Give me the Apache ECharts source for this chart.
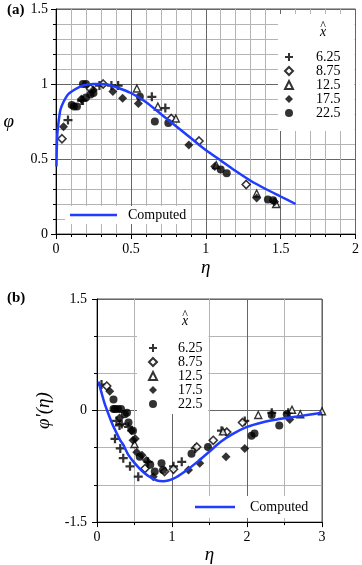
<!DOCTYPE html>
<html>
<head>
<meta charset="utf-8">
<script src="https://cdn.jsdelivr.net/npm/echarts@6/dist/echarts.min.js"></script>
<style>
  html, body { margin: 0; padding: 0; background: #fff; }
  #container { width: 362px; height: 565px; }
</style>
</head>
<body>
<div id="container"></div>
<script>
// panel (a): phi vs eta, one array per x-hat station
const aNames = ['6.25', '8.75', '12.5', '17.5', '22.5'];
const a625 = [[0.08, 0.76], [0.17, 0.89], [0.18, 0.89], [0.29, 0.99], [0.37, 0.99], [0.415, 0.99], [0.64, 0.915], [0.73, 0.84]];
const a875 = [[0.04, 0.635], [0.23, 0.97], [0.315, 1.0], [0.77, 0.77], [0.955, 0.62], [1.27, 0.33]];
const a125 = [[0.54, 0.97], [0.68, 0.85], [0.8, 0.77], [1.07, 0.46], [1.34, 0.27], [1.47, 0.2]];
const a175 = [[0.05, 0.715], [0.17, 0.9], [0.25, 0.96], [0.38, 0.95], [0.445, 0.905], [0.55, 0.87], [0.887, 0.593], [1.06, 0.45], [1.34, 0.24], [1.46, 0.215]];
const a225 = [[0.105, 0.86], [0.12, 0.85], [0.14, 0.85], [0.18, 1.0], [0.2, 1.0], [0.2, 0.91], [0.23, 0.93], [0.25, 0.94], [0.56, 0.915], [0.66, 0.75], [0.75, 0.74], [1.1, 0.43], [1.14, 0.405], [1.415, 0.23], [1.45, 0.225]];
const aComputed = [[0.003, 0.45], [0.006, 0.6], [0.01, 0.68], [0.02, 0.77], [0.03, 0.83], [0.05, 0.88], [0.08, 0.93], [0.12, 0.96], [0.18, 0.99], [0.25, 1.0], [0.3, 1.0], [0.35, 0.995], [0.4, 0.98], [0.5, 0.94], [0.6, 0.88], [0.7, 0.8], [0.8, 0.72], [0.9, 0.64], [1.0, 0.56], [1.1, 0.49], [1.2, 0.42], [1.3, 0.355], [1.4, 0.3], [1.5, 0.25], [1.6, 0.2]];

// panel (b): phi' vs eta
const b625 = [[0.06, 0.35], [0.26, -0.14], [0.3, -0.2], [0.33, -0.18], [0.42, -0.22], [0.24, -0.38], [0.31, -0.51], [0.35, -0.64], [0.44, -0.75], [0.55, -0.89], [0.68, -0.69], [1.02, -0.75], [1.13, -0.69], [1.31, -0.51], [1.66, -0.27], [1.97, -0.14], [2.33, -0.03], [2.55, -0.03]];
const b875 = [[0.13, 0.33], [0.64, -0.78], [0.9, -0.82], [1.02, -0.79], [1.33, -0.49], [1.55, -0.4], [1.73, -0.29], [1.94, -0.16]];
const b125 = [[0.5, -0.45], [1.68, -0.28], [2.15, -0.06], [2.6, 0.01], [2.71, -0.05], [3.0, -0.01]];
const b175 = [[0.17, 0.26], [0.3, -0.1], [0.46, -0.27], [0.48, -0.4], [0.51, -0.38], [0.53, -0.56], [0.6, -0.6], [0.66, -0.67], [0.75, -0.89], [1.22, -0.8], [1.37, -0.71], [1.72, -0.62], [1.97, -0.51], [2.57, -0.12]];
const b225 = [[0.22, 0.15], [0.22, 0.02], [0.24, 0.02], [0.28, 0.02], [0.32, 0.02], [0.37, -0.05], [0.4, -0.03], [0.42, -0.16], [0.48, -0.27], [0.57, -0.62], [0.71, -0.73], [0.77, -0.82], [0.86, -0.71], [0.88, -0.8], [1.26, -0.58], [1.48, -0.49], [2.06, -0.34], [2.1, -0.31], [2.33, -0.06], [2.43, -0.2], [2.53, -0.05]];
const bComputed = [[0.02, 0.39], [0.06, 0.24], [0.1, 0.1], [0.15, -0.04], [0.2, -0.17], [0.26, -0.3], [0.31, -0.4], [0.35, -0.46], [0.38, -0.52], [0.42, -0.6], [0.48, -0.68], [0.55, -0.76], [0.62, -0.83], [0.7, -0.89], [0.8, -0.94], [0.88, -0.95], [0.95, -0.94], [1.05, -0.9], [1.2, -0.8], [1.35, -0.68], [1.5, -0.55], [1.65, -0.42], [1.8, -0.32], [2.0, -0.22], [2.2, -0.16], [2.4, -0.12], [2.6, -0.09], [2.8, -0.06], [3.0, -0.03]];

const SERIF = 'Liberation Serif';
const BLUE = '#1f3cff';
const CROSS = 'path://M3,0H5V3H8V5H5V8H3V5H0V3H3Z';

// symbol style per station
const styles = [
    { symbol: CROSS, symbolSize: 9, itemStyle: { color: '#000' } },
    { symbol: 'diamond', symbolSize: 8, itemStyle: { color: '#fff', borderColor: '#000', borderWidth: 1.6 } },
    { symbol: 'triangle', symbolSize: 7, itemStyle: { color: '#fff', borderColor: '#000', borderWidth: 1.4 } },
    { symbol: 'diamond', symbolSize: 9, itemStyle: { color: '#000' } },
    { symbol: 'circle', symbolSize: 8, itemStyle: { color: '#000' } }
];

function pointSeries(datas, idx) {
    return datas.map(function (d, i) {
        return Object.assign({
            type: 'scatter',
            name: aNames[i],
            xAxisIndex: idx,
            yAxisIndex: idx,
            data: d,
            z: 2
        }, styles[i]);
    });
}

function valueAxis(o) {
    return Object.assign({
        type: 'value',
        gridIndex: o.grid,
        axisLine: { show: true, onZero: false, lineStyle: { color: '#000', width: 1 } },
        axisTick: { show: true, inside: false, length: 5, lineStyle: { color: '#000' } },
        minorTick: { show: true, splitNumber: o.minor, length: 3, lineStyle: { color: '#000' } },
        axisLabel: { fontFamily: SERIF, fontSize: 14, color: '#000', margin: 8 },
        splitLine: { show: true, lineStyle: { color: '#666', width: 1 } },
        minorSplitLine: { show: true, lineStyle: { color: '#b4b4b4', width: 1 } },
        nameLocation: 'middle',
        nameTextStyle: { fontFamily: SERIF, fontSize: 19, fontStyle: 'italic', color: '#000' }
    }, o.extra);
}

// white legend box drawn by the legend itself, sized through padding
function stationLegend(left, top, padding, pad) {
    return {
        data: aNames,
        orient: 'vertical',
        left: left,
        top: top,
        z: 8,
        padding: padding,
        backgroundColor: '#fff',
        itemGap: 0,
        itemWidth: 8,
        itemHeight: 8,
        selectedMode: false,
        formatter: function (n) { return '{t|' + n + '}'; },
        textStyle: {
            rich: { t: { fontFamily: SERIF, fontSize: 14, lineHeight: 13.6, color: '#000', padding: [0, 0, 0, pad] } }
        }
    };
}

function computedLegend(left, top, padding, w, pad) {
    return {
        data: [{ name: 'Computed', icon: 'rect' }],
        left: left,
        top: top,
        z: 8,
        padding: padding,
        backgroundColor: '#fff',
        itemWidth: w,
        itemHeight: 2.5,
        selectedMode: false,
        formatter: function (n) { return '{t|' + n + '}'; },
        textStyle: {
            rich: { t: { fontFamily: SERIF, fontSize: 14, lineHeight: 14, color: '#000', padding: [0, 0, 0, pad] } }
        }
    };
}

function hatX(cx, cy) {
    return [
        { type: 'text', x: cx, y: cy - 6, z: 20, style: { text: '^', fontFamily: SERIF, fontSize: 12, fill: '#000', align: 'center', verticalAlign: 'middle' } },
        { type: 'text', x: cx, y: cy, z: 20, style: { text: 'x', fontFamily: SERIF, fontSize: 14, fontStyle: 'italic', fill: '#000', align: 'center', verticalAlign: 'middle' } }
    ];
}

let chart = echarts.init(document.getElementById('container'));

let option = {
    animation: false,
    backgroundColor: '#fff',
    grid: [
        { left: 56, top: 9, width: 301, height: 225, show: true, borderColor: '#555', borderWidth: 1 },
        { left: 97, top: 299, width: 225, height: 226, show: true, borderColor: '#555', borderWidth: 1 }
    ],
    xAxis: [
        valueAxis({ grid: 0, minor: 5, extra: { min: 0, max: 2, interval: 0.5, name: 'η', nameGap: 24 } }),
        valueAxis({ grid: 1, minor: 2, extra: { min: 0, max: 3, interval: 1, name: 'η', nameGap: 22 } })
    ],
    yAxis: [
        valueAxis({ grid: 0, minor: 5, extra: { min: 0, max: 1.5, interval: 0.5, name: 'φ', nameGap: 42, nameRotate: 0 } }),
        valueAxis({ grid: 1, minor: 3, extra: { min: -1.5, max: 1.5, interval: 1.5, name: "φ'(η)", nameGap: 36, axisLabel: { fontFamily: SERIF, fontSize: 14, color: '#000', margin: 10 } } })
    ],
    legend: [
        stationLegend(278, 14, [36, 14, 11, 6], 18),
        stationLegend(137, 300, [41, 6, 3, 11], 16),
        computedLegend(65, 206, [2, 4, 2, 5], 47, 6),
        computedLegend(190, 496, [4, 4, 4, 5], 40, 10)
    ],
    graphic: hatX(323, 32).concat(hatX(185, 321)).concat([
        { type: 'text', x: 7, y: 3, z: 20, style: { text: '(a)', fontFamily: SERIF, fontSize: 15, fontWeight: 'bold', fill: '#000' } },
        { type: 'text', x: 7, y: 291, z: 20, style: { text: '(b)', fontFamily: SERIF, fontSize: 15, fontWeight: 'bold', fill: '#000' } }
    ]),
    series: pointSeries([a625, a875, a125, a175, a225], 0)
        .concat(pointSeries([b625, b875, b125, b175, b225], 1))
        .concat([
            {
                type: 'line', name: 'Computed', xAxisIndex: 0, yAxisIndex: 0,
                data: aComputed, symbol: 'none', smooth: 0.25,
                lineStyle: { color: BLUE, width: 2.5 }, itemStyle: { color: BLUE }, z: 3
            },
            {
                type: 'line', name: 'Computed', xAxisIndex: 1, yAxisIndex: 1,
                data: bComputed, symbol: 'none', smooth: 0.25,
                lineStyle: { color: BLUE, width: 2.5 }, itemStyle: { color: BLUE }, z: 3
            }
        ])
};

chart.setOption(option);
</script>
</body>
</html>
